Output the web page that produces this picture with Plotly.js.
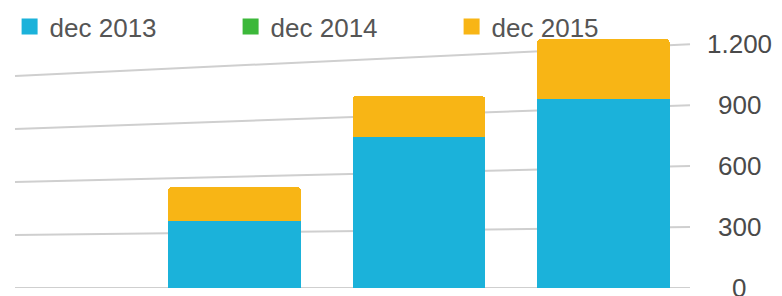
<!DOCTYPE html>
<html>
<head>
<meta charset="utf-8">
<script src="https://cdn.plot.ly/plotly-3.0.1.min.js"></script>
<style>html,body{margin:0;padding:0;background:#fff;}#chart{width:782px;height:296px;}</style>
</head>
<body>
<div id="chart"></div>
<script>
const categories = ['A', 'B', 'C'];
const seriesNames = ['dec 2013', 'dec 2014', 'dec 2015'];
const dec2013 = [328, 745, 930];
const dec2014 = [0, 0, 0];
const dec2015 = [168, 200, 295];
const tickVals = [0, 300, 600, 900, 1200];
const tickLabels = ['0', '300', '600', '900', '1.200'];

const colors = ['#1bb2da', '#3cb83a', '#f8b515'];
const values = [dec2013, dec2014, dec2015];

const traces = values.map((v, i) => ({
  type: 'bar',
  name: seriesNames[i],
  x: [0, 1, 2],
  y: v,
  marker: {color: colors[i], line: {width: 0}},
  showlegend: false,
  hoverinfo: 'none'
}));

// legend-only entries with larger square swatches
seriesNames.forEach((n, i) => {
  traces.push({
    type: 'scatter', mode: 'markers', name: n,
    x: [null], y: [null],
    marker: {symbol: 'square', size: 18, color: colors[i]},
    showlegend: true, hoverinfo: 'none'
  });
});

const shapes = tickVals.map(v => ({
  type: 'line', layer: 'below', xref: 'paper', yref: 'y',
  x0: 0, x1: 1, y0: v * 0.87, y1: v,
  line: {color: '#cfcfcf', width: 2}
}));

const annotations = tickVals.map((v, i) => ({
  xref: 'paper', yref: 'y', x: 1.0726, y: v, xanchor: 'center', yanchor: 'middle',
  text: tickLabels[i], showarrow: false,
  font: {family: 'Liberation Sans, Arial, sans-serif', size: 26, color: '#4a4a4a'}
}));

const layout = {
  width: 782, height: 296,
  margin: {l: 15, r: 92, t: 32, b: 8, autoexpand: false},
  paper_bgcolor: '#ffffff', plot_bgcolor: '#ffffff',
  barmode: 'stack', bargap: 0.28, barcornerradius: 4,
  showlegend: true,
  legend: {
    orientation: 'h', x: -0.008, xanchor: 'left', y: 1.021, yanchor: 'middle',
    entrywidth: 176, entrywidthmode: 'pixels', traceorder: 'normal',
    itemsizing: 'trace',
    font: {family: 'Liberation Sans, Arial, sans-serif', size: 26, color: '#555555'},
    itemclick: false, bgcolor: 'rgba(0,0,0,0)'
  },
  xaxis: {range: [-1.19, 2.47], showgrid: false, zeroline: false, showticklabels: false, ticks: '', showline: false},
  yaxis: {range: [0, 1260], showgrid: false, zeroline: false, showticklabels: false, ticks: '', showline: false},
  shapes: shapes,
  annotations: annotations
};

Plotly.newPlot('chart', traces, layout, {displayModeBar: false, staticPlot: true});
</script>
</body>
</html>
